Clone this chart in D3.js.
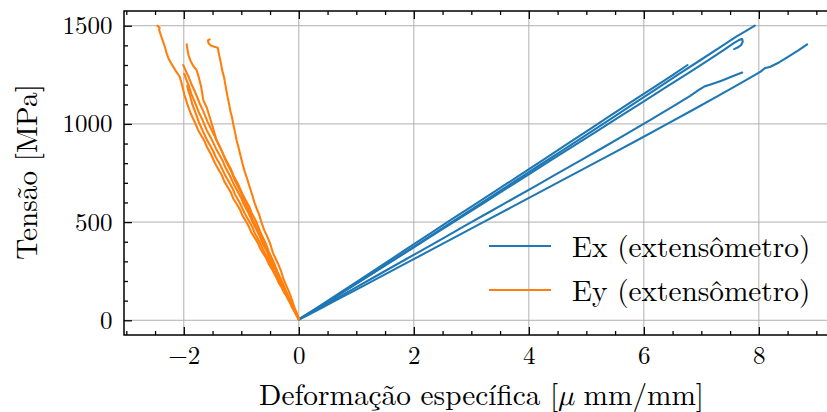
<!DOCTYPE html>
<html>
<head>
<meta charset="utf-8">
<script src="https://cdn.jsdelivr.net/npm/d3@7"></script>
<style>
  body { margin: 0; background: #fff; }
  svg { display: block; }
</style>
</head>
<body>
<svg id="chart" width="827" height="412"></svg>
<script>
// ---- tick labels -------------------------------------------------------
const xTicks = [-2, 0, 2, 4, 6, 8];
const yTicks = [0, 500, 1000, 1500];
const legendLabels = ["Ex (extensômetro)", "Ey (extensômetro)"];
const xLabel = "Deformação específica [";
const yLabel = "Tensão [MPa]";

// ---- Ex curves: [strain (μ mm/mm), stress (MPa)] ------------------------
const ex1 = [[0.00,4],[0.12,25],[0.30,58],[0.52,98],[0.80,150],[1.10,206],[1.45,271],[1.80,337],[2.20,412],[2.60,488],[3.00,563],[3.40,640],[3.80,716],[4.20,792],[4.60,868],[5.00,944],[5.40,1021],[5.80,1098],[6.20,1174],[6.60,1252],[7.00,1328],[7.35,1395],[7.60,1443],[7.80,1478],[7.93,1501]];
const ex2 = [[0.00,6],[0.15,30],[0.35,66],[0.60,112],[0.90,167],[1.25,232],[1.60,297],[2.00,371],[2.40,446],[2.80,520],[3.20,594],[3.60,669],[4.00,743],[4.40,818],[4.80,892],[5.20,966],[5.60,1041],[6.00,1115],[6.40,1190],[6.80,1264],[7.15,1330],[7.40,1378],[7.55,1409],[7.66,1428],[7.71,1432],[7.72,1418],[7.69,1401],[7.63,1389],[7.57,1381]];
const ex3 = [[0.00,5],[0.10,24],[0.28,57],[0.50,99],[0.78,152],[1.10,214],[1.45,281],[1.85,358],[2.25,435],[2.65,512],[3.05,588],[3.45,664],[3.85,740],[4.25,817],[4.65,894],[5.05,971],[5.45,1048],[5.85,1125],[6.20,1191],[6.50,1249],[6.76,1300]];
const ex4 = [[0.00,5],[0.14,28],[0.35,61],[0.62,105],[0.95,160],[1.30,218],[1.70,284],[2.10,350],[2.50,416],[2.90,483],[3.30,549],[3.70,615],[4.10,681],[4.50,748],[4.90,814],[5.30,881],[5.70,949],[6.10,1018],[6.50,1088],[6.80,1142],[6.95,1172],[7.05,1190],[7.20,1205],[7.35,1220],[7.50,1238],[7.62,1252],[7.71,1262]];
const ex5 = [[0.00,4],[0.16,26],[0.40,63],[0.70,110],[1.05,164],[1.45,226],[1.90,296],[2.35,366],[2.80,436],[3.25,506],[3.70,576],[4.15,646],[4.60,716],[5.05,786],[5.50,856],[5.95,927],[6.40,999],[6.85,1071],[7.30,1144],[7.70,1210],[7.95,1252],[8.03,1266],[8.10,1283],[8.20,1291],[8.35,1313],[8.50,1340],[8.68,1373],[8.84,1405]];

// ---- Ey curves ---------------------------------------------------------
const ey1 = [[0.00,5],[-0.03,22],[-0.07,43],[-0.12,69],[-0.15,90],[-0.18,103],[-0.22,128],[-0.25,139],[-0.31,173],[-0.35,190],[-0.38,211],[-0.45,251],[-0.52,285],[-0.56,312],[-0.60,332],[-0.67,365],[-0.71,392],[-0.75,412],[-0.83,450],[-0.87,478],[-0.91,499],[-0.98,533],[-1.02,561],[-1.06,582],[-1.14,620],[-1.18,650],[-1.22,670],[-1.30,710],[-1.34,740],[-1.38,759],[-1.46,801],[-1.53,847],[-1.60,884],[-1.64,912],[-1.68,932],[-1.75,968],[-1.82,1016],[-1.88,1053],[-1.94,1102],[-1.99,1148],[-2.03,1197],[-2.07,1240],[-2.14,1270],[-2.22,1309],[-2.27,1336],[-2.30,1361],[-2.33,1393],[-2.36,1419],[-2.39,1444],[-2.41,1462],[-2.43,1479],[-2.42,1490],[-2.46,1500]];
const ey2 = [[0.00,8],[-0.03,27],[-0.07,49],[-0.12,82],[-0.18,115],[-0.21,140],[-0.25,162],[-0.32,203],[-0.36,234],[-0.40,260],[-0.48,306],[-0.52,338],[-0.56,362],[-0.64,409],[-0.68,440],[-0.72,465],[-0.80,511],[-0.84,542],[-0.88,568],[-0.96,614],[-1.00,646],[-1.04,670],[-1.12,717],[-1.16,748],[-1.20,772],[-1.28,819],[-1.32,850],[-1.36,874],[-1.43,916],[-1.49,977],[-1.55,1035],[-1.60,1082],[-1.66,1120],[-1.70,1192],[-1.74,1238],[-1.78,1276],[-1.83,1292],[-1.88,1319],[-1.92,1352],[-1.94,1386],[-1.95,1405]];
const ey3 = [[0.00,8],[-0.04,41],[-0.07,60],[-0.10,86],[-0.14,122],[-0.18,151],[-0.22,178],[-0.27,213],[-0.31,252],[-0.36,287],[-0.40,312],[-0.45,343],[-0.50,392],[-0.55,427],[-0.60,458],[-0.65,498],[-0.69,538],[-0.73,567],[-0.77,598],[-0.81,638],[-0.86,684],[-0.90,722],[-0.94,756],[-0.98,798],[-1.02,846],[-1.05,882],[-1.08,914],[-1.11,958],[-1.14,998],[-1.16,1032],[-1.19,1064],[-1.21,1098],[-1.24,1140],[-1.26,1172],[-1.28,1204],[-1.30,1238],[-1.33,1270],[-1.35,1302],[-1.38,1344],[-1.41,1388],[-1.47,1393],[-1.53,1399],[-1.57,1411],[-1.58,1425],[-1.55,1431]];
const ey4 = [[0.00,5],[-0.04,29],[-0.09,58],[-0.15,102],[-0.22,146],[-0.26,176],[-0.29,197],[-0.37,246],[-0.45,305],[-0.52,348],[-0.56,380],[-0.59,400],[-0.67,450],[-0.74,502],[-0.82,547],[-0.86,578],[-0.90,599],[-0.98,643],[-1.06,695],[-1.14,739],[-1.18,770],[-1.22,791],[-1.30,835],[-1.37,882],[-1.44,923],[-1.52,971],[-1.59,1013],[-1.66,1064],[-1.73,1108],[-1.80,1160],[-1.86,1198],[-1.92,1242],[-1.97,1273],[-2.01,1300]];
const ey5 = [[0.00,6],[-0.05,31],[-0.10,65],[-0.17,104],[-0.24,152],[-0.32,197],[-0.36,228],[-0.40,252],[-0.48,298],[-0.56,352],[-0.64,398],[-0.68,428],[-0.72,452],[-0.80,498],[-0.88,549],[-0.96,592],[-1.00,622],[-1.04,643],[-1.12,686],[-1.20,737],[-1.28,780],[-1.32,810],[-1.36,831],[-1.44,874],[-1.52,924],[-1.60,967],[-1.67,1017],[-1.74,1060],[-1.81,1112],[-1.87,1153],[-1.92,1200],[-1.96,1228],[-1.99,1255]];
const ey6 = [[0.00,4],[-0.05,31],[-0.11,62],[-0.18,106],[-0.26,148],[-0.34,199],[-0.43,248],[-0.47,276],[-0.51,299],[-0.60,347],[-0.68,398],[-0.77,446],[-0.81,476],[-0.86,502],[-0.94,544],[-1.03,600],[-1.11,641],[-1.15,670],[-1.20,696],[-1.28,738],[-1.37,793],[-1.45,834],[-1.49,862],[-1.53,884],[-1.61,926],[-1.68,971],[-1.74,1010],[-1.80,1060],[-1.85,1098],[-1.89,1142],[-1.92,1168],[-1.94,1195]];

const exCurves = [ex1, ex2, ex3, ex4, ex5];
const eyCurves = [ey1, ey2, ey3, ey4, ey5, ey6];
const colors = ["#1f77b4", "#ff7f0e"];

// ---- layout ------------------------------------------------------------
const W = 827, H = 412;
const L = 124, T = 11, R = 840.5, B = 335;
const FONT = "'Latin Modern Roman', 'CMU Serif', 'Liberation Serif', serif";
const MATH = "'Latin Modern Math', 'Noto Serif', 'DejaVu Serif', serif";

const svg = d3.select("#chart");
svg.append("rect").attr("width", W).attr("height", H).attr("fill", "#fff");

const x = d3.scaleLinear().domain([-3.04, 9.42]).range([L, R]);
const y = d3.scaleLinear().domain([-75, 1575]).range([B, T]);

svg.append("defs").append("clipPath").attr("id", "plot-clip")
  .append("rect").attr("x", L).attr("y", T).attr("width", R - L).attr("height", B - T);

// grid
const grid = svg.append("g").attr("stroke", "#b0b0b0").attr("stroke-width", 1);
grid.selectAll("line.gx").data(xTicks).join("line")
  .attr("x1", d => x(d)).attr("x2", d => x(d)).attr("y1", T).attr("y2", B);
grid.selectAll("line.gy").data(yTicks).join("line")
  .attr("x1", L).attr("x2", R).attr("y1", d => y(d)).attr("y2", d => y(d));

// curves
const line = d3.line().x(d => x(d[0])).y(d => y(d[1]));
const plot = svg.append("g").attr("clip-path", "url(#plot-clip)")
  .attr("fill", "none").attr("stroke-width", 2.1)
  .attr("stroke-linejoin", "round").attr("stroke-linecap", "round");
plot.selectAll("path.ex").data(exCurves).join("path")
  .attr("class", "ex").attr("stroke", colors[0]).attr("d", line);
plot.selectAll("path.ey").data(eyCurves).join("path")
  .attr("class", "ey").attr("stroke", colors[1]).attr("d", line);

// axes: inward ticks on all four sides
const xMinor = d3.range(-3, 9.51, 0.5).filter(v => !xTicks.includes(v));
const yMinor = d3.range(0, 1501, 100).filter(v => !yTicks.includes(v));

function axisGroup(axis, tx, ty) {
  const g = svg.append("g").attr("transform", `translate(${tx},${ty})`).call(axis);
  g.attr("font-family", FONT);
  g.select(".domain").remove();
  g.selectAll(".tick line").attr("stroke", "#000");
  return g;
}
const fmt = d => (d < 0 ? "\u2212" + Math.abs(d) : String(d));

const gxb = axisGroup(d3.axisBottom(x).tickValues(xTicks).tickSize(-8).tickFormat(fmt), 0, B);
axisGroup(d3.axisBottom(x).tickValues(xMinor).tickSize(-4).tickFormat(""), 0, B);
axisGroup(d3.axisTop(x).tickValues(xTicks).tickSize(-8).tickFormat(""), 0, T);
axisGroup(d3.axisTop(x).tickValues(xMinor).tickSize(-4).tickFormat(""), 0, T);
const gyl = axisGroup(d3.axisLeft(y).tickValues(yTicks).tickSize(-8).tickFormat(fmt), L, 0);
axisGroup(d3.axisLeft(y).tickValues(yMinor).tickSize(-4).tickFormat(""), L, 0);
axisGroup(d3.axisRight(y).tickValues(yTicks).tickSize(-8).tickFormat(""), R, 0);
axisGroup(d3.axisRight(y).tickValues(yMinor).tickSize(-4).tickFormat(""), R, 0);
svg.selectAll(".tick line").attr("stroke-width", 1.3);

// tick labels
gxb.selectAll(".tick text")
  .attr("font-family", FONT).attr("font-size", 25)
  .attr("y", 29).attr("dy", 0).attr("fill", "#000");
gyl.selectAll(".tick text")
  .attr("font-family", FONT).attr("font-size", 25)
  .attr("x", -11.5).attr("dy", 0).attr("y", 8).attr("fill", "#000");

// frame
svg.append("rect").attr("x", L).attr("y", T).attr("width", R - L).attr("height", B - T)
  .attr("fill", "none").attr("stroke", "#000").attr("stroke-width", 1.5);

// axis titles
const xt = svg.append("text").attr("x", 481.5).attr("y", 405)
  .attr("font-family", FONT)
  .attr("text-anchor", "middle").attr("font-size", 29.3);
xt.append("tspan").text(xLabel);
xt.append("tspan").attr("font-family", MATH).attr("font-style", "italic").text("μ");
xt.append("tspan").text(" mm/mm]");

svg.append("text")
  .attr("transform", "translate(37,172) rotate(-90)")
  .attr("font-family", FONT)
  .attr("text-anchor", "middle").attr("font-size", 29.3)
  .text(yLabel);

// legend (no frame)
const legend = svg.append("g").attr("font-family", FONT);
legendLabels.forEach((lab, i) => {
  const ly = 246 + i * 44;
  legend.append("line").attr("x1", 489).attr("x2", 551).attr("y1", ly).attr("y2", ly)
    .attr("stroke", colors[i]).attr("stroke-width", 2);
  legend.append("text").attr("x", 572).attr("y", ly + 11).attr("font-size", 29.3)
    .text(lab);
});
</script>
</body>
</html>
